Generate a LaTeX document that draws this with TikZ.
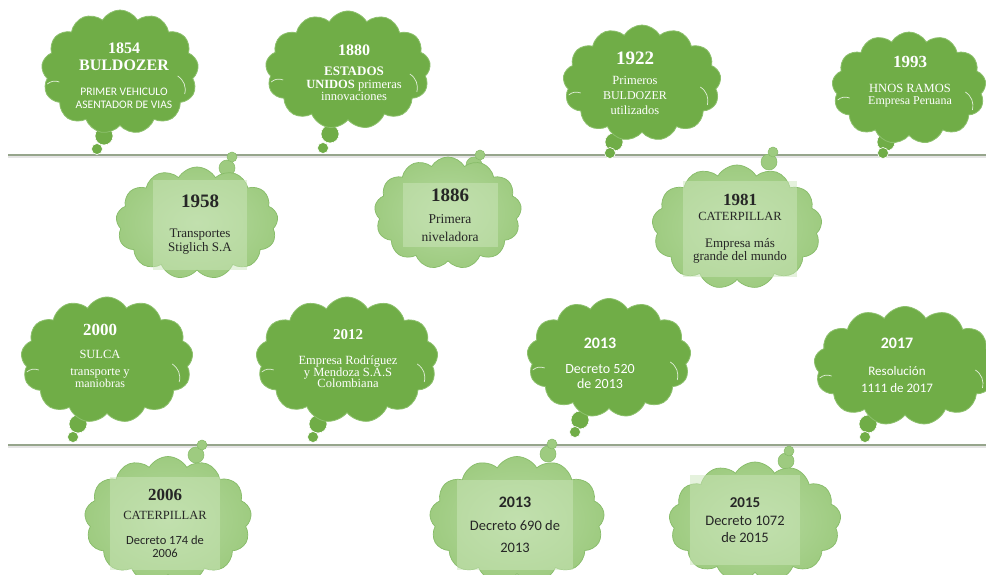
\documentclass[tikz,border=0pt]{standalone}
\usepackage{fontspec}
\setmainfont{Liberation Serif}
\newfontfamily\cali{Carlito}
\usetikzlibrary{shapes.symbols}
\newcommand{\fs}[1]{\fontsize{#1}{#1}\selectfont}

\begin{document}
\begin{tikzpicture}[x=1pt,y=-1pt,
  darkcloud/.style={cloud,cloud puffs=13,cloud puff arc=120,aspect=1.3,fill=leafdark,draw=leafrim,line width=0.8pt,inner sep=0pt},
  lightcloud/.style={cloud,cloud puffs=13,cloud puff arc=120,aspect=1.3,inner color=leafmid,outer color=leaflight,draw=leafline,line width=0.7pt,inner sep=0pt},
  darktext/.style={align=center,text=white,inner sep=0pt,font=\fontsize{12}{14}\selectfont},
  lighttext/.style={align=center,text=black!85,fill=leafpale,fill opacity=0.5,text opacity=1,inner sep=0pt,font=\fontsize{12}{14}\selectfont},
  bubdark/.style={fill=leafdark,draw=white,line width=0.6pt},
  bublight/.style={fill=leaflight,draw=leafline,line width=0.5pt},
  puffline/.style={draw=white!80!leafdark,line width=0.7pt},
  rail/.style={line width=1.6pt,draw=railgray}]
% Define timeline colours
\definecolor{leafdark}{RGB}{112,173,71}
\definecolor{leafrim}{RGB}{140,192,108}
\definecolor{leaflight}{RGB}{158,203,128}
\definecolor{leafmid}{RGB}{182,218,160}
\definecolor{leafpale}{RGB}{205,230,188}
\definecolor{leafline}{RGB}{135,188,105}
\definecolor{railgray}{RGB}{150,165,140}

\fill[white] (0,0) rectangle (986,575);
\clip (0,0) rectangle (986,575);

% Draw the two time lines
\coordinate (l1s) at (8,155);
\coordinate (l1e) at (986,155);
\coordinate (l2s) at (8,445);
\coordinate (l2e) at (986,445);
\draw[line width=2pt,black!10] ([yshift=-2pt]l1s) -- ([yshift=-2pt]l1e);
\draw[line width=2pt,black!10] ([yshift=-2pt]l2s) -- ([yshift=-2pt]l2e);
\draw[rail] (l1s) -- (l1e);
\draw[rail] (l2s) -- (l2e);

% Draw thought bubbles, upper row
\draw[bubdark] (104,136) circle (9);
\draw[bubdark] (97,149) circle (5.5);
\draw[bubdark] (330,134) circle (9);
\draw[bubdark] (323,148) circle (5.5);
\draw[bubdark] (614,142) circle (9);
\draw[bubdark] (610,153) circle (5.5);
\draw[bubdark] (886,142) circle (9);
\draw[bubdark] (883,153) circle (5.5);
\draw[bublight] (227,168) circle (8);
\draw[bublight] (232,157) circle (5);
\draw[bublight] (474,165) circle (8);
\draw[bublight] (480,155) circle (5);
\draw[bublight] (769,162) circle (8);
\draw[bublight] (773,152) circle (5);

% Draw thought bubbles, lower row
\draw[bubdark] (78,424) circle (9);
\draw[bubdark] (73,437) circle (5.5);
\draw[bubdark] (318,424) circle (9);
\draw[bubdark] (313,437) circle (5.5);
\draw[bubdark] (580,420) circle (9);
\draw[bubdark] (575,432) circle (5.5);
\draw[bubdark] (868,424) circle (9);
\draw[bubdark] (865,437) circle (5.5);
\draw[bublight] (196,455) circle (8);
\draw[bublight] (202,445) circle (5);
\draw[bublight] (548,454) circle (8);
\draw[bublight] (552,444) circle (5);
\draw[bublight] (786,461) circle (8);
\draw[bublight] (789,451) circle (5);

% Draw clouds
\node[darkcloud,minimum width=157,minimum height=124] (c1854) at (120,72) {};
\node[darkcloud,minimum width=165,minimum height=118] (c1880) at (348,70) {};
\node[darkcloud,minimum width=158,minimum height=116] (c1922) at (642,83) {};
\node[darkcloud,minimum width=154,minimum height=112] (c1993) at (909,88) {};
\node[lightcloud,minimum width=162,minimum height=112] (c1958) at (197,223) {};
\node[lightcloud,minimum width=147,minimum height=112] (c1886) at (448,213) {};
\node[lightcloud,minimum width=170,minimum height=124] (c1981) at (737,227) {};
\node[darkcloud,minimum width=172,minimum height=126] (c2000) at (107,360) {};
\node[darkcloud,minimum width=182,minimum height=126] (c2012) at (347,360) {};
\node[darkcloud,minimum width=164,minimum height=119] (c2013a) at (609,358) {};
\node[darkcloud,minimum width=182,minimum height=119] (c2017) at (905,366) {};
\node[lightcloud,minimum width=167,minimum height=127] (c2006) at (168,520) {};
\node[lightcloud,minimum width=175,minimum height=127] (c2013b) at (517,520) {};
\node[lightcloud,minimum width=172,minimum height=120] (c2015) at (755,522) {};

% Inner puff lines of the dark clouds
\foreach \c in {c1854,c1880,c1922,c1993,c2000,c2012,c2013a,c2017} {
  \draw[puffline] ([shift={(5,12)}]\c.west) to[bend left=30] ([shift={(17,10)}]\c.west);
  \draw[puffline] ([shift={(-20,4)}]\c.east) to[bend left=35] ([shift={(-13,22)}]\c.east);
}

% Add texts on dark clouds
\node[darktext] (t1854) at (124,76) {{\fs{16}\bfseries 1854}\\[3pt]{\fs{16}\bfseries BULDOZER}\\[11pt]{\cali\fs{11.5}PRIMER VEHICULO}\\[-1pt]{\cali\fs{11.5}ASENTADOR DE VIAS}};
\node[darktext] (t1880) at (354,73) {{\fs{16}\bfseries 1880}\\[6pt]{\fs{13}\bfseries ESTADOS}\\[-1pt]{\fs{12.5}\textbf{UNIDOS} primeras}\\[-2pt]{\fs{12.5}innovaciones}};
\node[darktext] (t1922) at (635,83) {{\fs{19}\bfseries 1922}\\[6pt]{\fs{12.5}Primeros}\\[1pt]{\fs{12}BULDOZER}\\[1pt]{\fs{12.5}utilizados}};
\node[darktext] (t1993) at (910,82) {{\fs{17}\bfseries 1993}\\[11pt]{\fs{12.5}HNOS RAMOS}\\[-2pt]{\fs{12}Empresa Peruana}};
\node[darktext] (t2000) at (100,356) {{\fs{17}\bfseries 2000}\\[9pt]{\fs{12.5}SULCA}\\[3pt]{\fs{12.5}transporte y}\\[-2pt]{\fs{12}maniobras}};
\node[darktext] (t2012) at (348,359) {{\fs{15}\bfseries 2012}\\[11pt]{\fs{12.5}Empresa Rodríguez}\\[-2pt]{\fs{12.5}y Mendoza S.A.S}\\[-3pt]{\fs{12.5}Colombiana}};
\node[darktext] (t2013a) at (600,363) {{\cali\fs{16}\bfseries 2013}\\[11pt]{\cali\fs{14}Decreto 520}\\[1pt]{\cali\fs{14}de 2013}};
\node[darktext] (t2017) at (897,365) {{\cali\fs{16}\bfseries 2017}\\[13pt]{\cali\fs{13}Resolución}\\[3pt]{\cali\fs{13}1111 de 2017}};

% Add texts on light clouds
\node[lighttext,minimum width=94,minimum height=90] (t1958) at (200,225) {{\fs{19}\bfseries 1958}\\[16pt]{\fs{13}Transportes}\\[0pt]{\fs{13}Stiglich S.A}};
\node[lighttext,minimum width=95,minimum height=64] (t1886) at (450,215) {{\fs{19}\bfseries 1886}\\[8pt]{\fs{13.5}Primera}\\[4pt]{\fs{13.5}niveladora}};
\node[lighttext,minimum width=114,minimum height=95] (t1981) at (740,229) {{\fs{17}\bfseries 1981}\\[1pt]{\fs{12.5}CATERPILLAR}\\[13pt]{\fs{13}Empresa más}\\[-1pt]{\fs{13}grande del mundo}};
\node[lighttext,minimum width=110,minimum height=93] (t2006) at (165,523) {{\fs{17}\bfseries 2006}\\[5pt]{\fs{12.5}CATERPILLAR}\\[11pt]{\cali\fs{12.5}Decreto 174 de}\\[-1pt]{\cali\fs{12.5}2006}};
\node[lighttext,minimum width=116,minimum height=90] (t2013b) at (515,525) {{\cali\fs{16}\bfseries 2013}\\[9pt]{\cali\fs{14.5}Decreto 690 de}\\[8pt]{\cali\fs{14.5}2013}};
\node[lighttext,minimum width=110,minimum height=90] (t2015) at (745,520) {{\cali\fs{15}\bfseries 2015}\\[4pt]{\cali\fs{14.5}Decreto 1072}\\[3pt]{\cali\fs{14.5}de 2015}};
\end{tikzpicture}
\end{document}
